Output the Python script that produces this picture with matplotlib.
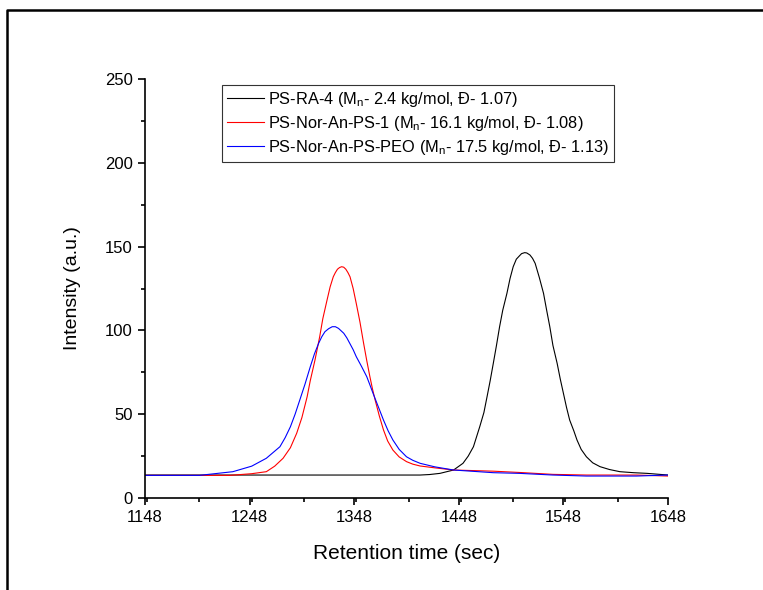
import matplotlib
matplotlib.use("Agg")
import matplotlib.pyplot as plt
from matplotlib.lines import Line2D
from matplotlib.ticker import MultipleLocator

plt.rcParams['font.family'] = ['Liberation Sans', 'DejaVu Sans']
plt.rcParams['mathtext.fontset'] = 'custom'
plt.rcParams['mathtext.rm'] = 'Liberation Sans'
plt.rcParams['mathtext.it'] = 'Liberation Sans:italic'

# ---- data ----
x_black = [1148, 1411, 1420, 1430, 1443, 1452, 1457, 1462, 1468, 1472, 1475, 1478, 1481, 1484,
           1487, 1490, 1494, 1497, 1500, 1503, 1506, 1508, 1511, 1513, 1516, 1518.5, 1521, 1525,
           1529, 1532, 1535, 1538, 1542, 1545, 1548, 1551, 1554, 1558, 1561, 1565, 1570, 1576,
           1583, 1592, 1602, 1615, 1628, 1648]
y_black = [13.7, 13.7, 14.0, 14.7, 16.7, 20.7, 25, 30.6, 42.5, 51, 60.4, 70, 80.4, 91,
           102.2, 112, 122.1, 131, 138, 142.5, 144.5, 145.8, 146.4, 146.2, 145, 143, 140, 131.5,
           122.1, 112, 102.2, 91, 80.4, 71, 62.5, 54, 46.5, 40, 34.6, 29, 24.6, 21,
           18.7, 17, 15.7, 15.1, 14.7, 13.7]

x_red = [1148, 1229, 1250, 1264, 1272, 1280, 1287, 1293, 1298, 1303, 1306, 1310.5, 1313, 1315,
         1318, 1322, 1325, 1328, 1330, 1332, 1334, 1336, 1338, 1340, 1342, 1344, 1347, 1350,
         1353.5, 1357, 1360, 1363, 1365.5, 1368, 1372, 1376, 1380, 1385, 1391, 1398, 1404,
         1411, 1425, 1443, 1481, 1507, 1538, 1570, 1618, 1648]
y_red = [13.5, 13.5, 14.5, 15.7, 19, 23.7, 30, 38.6, 48, 60.4, 70, 82.3, 90, 96.2,
         107, 118, 126, 132, 134.5, 136.5, 137.5, 138, 137.7, 136.5, 134.5, 132, 125, 116,
         105, 92.3, 82, 72.4, 65, 58.5, 49, 40.6, 34, 28.6, 24.5, 21.7, 20.2,
         19.1, 18, 16.7, 16, 15.2, 14.1, 13.7, 13.7, 13.1]

x_blue = [1148, 1200, 1232, 1250, 1264, 1277, 1282, 1287, 1291.5, 1296, 1301, 1306, 1310, 1314,
          1317, 1320, 1323.5, 1327, 1330, 1333, 1338, 1341, 1344, 1347, 1350, 1355, 1360, 1363,
          1366, 1371, 1376, 1380.5, 1385, 1391, 1398, 1404, 1411, 1425, 1443, 1481, 1506, 1538,
          1570, 1618, 1648]
y_blue = [13.5, 13.5, 15.7, 19, 23.7, 30.6, 36, 42.5, 50, 58.5, 68, 78.3, 86, 92.3,
          96.2, 99.2, 101, 102.2, 102.2, 101.2, 98.3, 95.5, 92, 88.5, 84.3, 78.5, 72.4, 67.5,
          62.5, 54.5, 46.5, 40, 34.6, 29, 24.6, 22.5, 20.7, 18.6, 16.7, 15.1, 14.7, 13.7,
          13.1, 13.1, 13.7]

labels = [r"PS-RA-4 (M$_\mathrm{n}$- 2.4 kg/mol, Đ- 1.07)",
          r"PS-Nor-An-PS-1 (M$_\mathrm{n}$- 16.1 kg/mol, Đ- 1.08)",
          r"PS-Nor-An-PS-PEO (M$_\mathrm{n}$- 17.5 kg/mol, Đ- 1.13)"]
colors = ["black", "red", "blue"]

x_ticks = [1148, 1248, 1348, 1448, 1548, 1648]
y_ticks = [0, 50, 100, 150, 200, 250]

assert len(x_black) == len(y_black) and len(x_red) == len(y_red) and len(x_blue) == len(y_blue)

# ---- figure ----
W, H = 763, 590
fig = plt.figure(figsize=(W / 100, H / 100), dpi=100)
ax = fig.add_axes([145 / W, 1 - 498 / H, 523 / W, 419 / H])

for xs, ys, c, lab in zip([x_black, x_red, x_blue], [y_black, y_red, y_blue], colors, labels):
    ax.plot(xs, ys, color=c, lw=0.8, label=lab)

ax.set_xlim(1148, 1648)
ax.set_ylim(0, 250)
ax.set_xticks(x_ticks)
ax.set_yticks(y_ticks)
ax.xaxis.set_minor_locator(MultipleLocator(50))
ax.yaxis.set_minor_locator(MultipleLocator(25))
ax.spines['top'].set_visible(False)
ax.spines['right'].set_visible(False)
for s in ['left', 'bottom']:
    ax.spines[s].set_linewidth(1.2)
ax.tick_params(which='major', direction='out', length=5, width=1.2, labelsize=12, pad=4)
ax.tick_params(which='minor', direction='out', length=3, width=1.2)

ax.set_xlabel("Retention time (sec)", fontsize=15, labelpad=13)
ax.set_ylabel("Intensity (a.u.)", fontsize=14, labelpad=17)

leg = ax.legend(loc='upper left', bbox_to_anchor=(0.147, 0.986), borderaxespad=0,
                fontsize=11.8, frameon=True, fancybox=False, framealpha=1,
                edgecolor='#333333', handlelength=2.3, handletextpad=0.2,
                labelspacing=0.3, borderpad=0.3)
leg.get_frame().set_linewidth(0.8)

# outer border (left and top edges visible)
fig.add_artist(Line2D([7 / W, 7 / W, 1.0], [0.0, 1 - 10 / H, 1 - 10 / H],
                      transform=fig.transFigure, color='black', lw=1.8))

fig.savefig("out.png", dpi=100)
